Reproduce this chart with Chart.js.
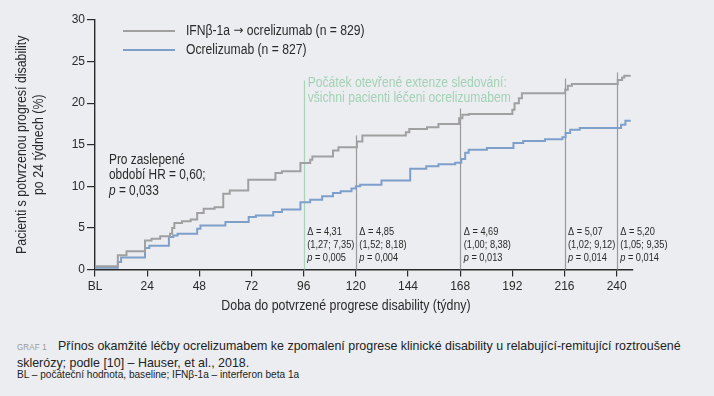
<!DOCTYPE html>
<html>
<head>
<meta charset="utf-8">
<script src="https://cdn.jsdelivr.net/npm/chart.js@4.4.1/dist/chart.umd.min.js"></script>
<style>
  body { margin: 0; background: #ebedf0; width: 714px; height: 396px; overflow: hidden; position: relative;
         font-family: 'Liberation Sans', sans-serif; }
  #wrap { position: absolute; left: 0; top: 0; width: 714px; height: 320px; }
  .cap { position: absolute; left: 17px; color: #222; white-space: nowrap; transform: scaleX(0.935); transform-origin: 0 0; }
  .graf { color: #9a9a9a; font-size: 8.5px; letter-spacing: 0.2px; margin-right: 12px; }
</style>
</head>
<body>
<div id="wrap"><canvas id="chart" width="714" height="320"></canvas></div>
<div class="cap" style="top:338px;font-size:13.3px"><span class="graf">GRAF 1</span>Přínos okamžité léčby ocrelizumabem ke zpomalení progrese klinické disability u relabující-remitující roztroušené</div>
<div class="cap" style="top:354.5px;font-size:13.3px">sklerózy; podle [10] – Hauser, et al., 2018.</div>
<div class="cap" style="top:367.5px;font-size:10.8px">BL – počáteční hodnota, baseline; IFNβ-1a – interferon beta 1a</div>
<script>
// Kaplan-Meier steps (week, % with confirmed progression)
const weeksIFN = [0, 10.5, 14.5, 23, 26, 30, 34.5, 35.5, 36.5, 40, 44, 47, 50, 55, 59, 62, 70.5, 83, 86,
  94.5, 99, 100, 109.5, 112, 120.5, 123, 143, 144.6, 152.7, 158, 167.5, 169, 172, 192, 193, 195, 196.4,
  216.3, 217.5, 219.4, 240.5, 242.5, 243.5, 246];
const valuesIFN = [0.4, 1.7, 2.2, 3.5, 3.7, 4.0, 4.3, 5.0, 5.6, 5.8, 6.0, 6.8, 7.3, 7.5, 9.1, 9.5, 10.8, 11.6, 11.8,
  12.8, 13.2, 13.6, 14.3, 14.7, 15.4, 16.1, 16.5, 16.9, 17.1, 17.5, 18.2, 18.6, 18.7, 19.2, 20.0, 20.6, 21.2,
  21.6, 22.1, 22.3, 22.8, 23.1, 23.3, 23.4];

const weeksOcr = [0, 10.5, 12, 23, 25, 34, 36, 38, 47, 48.5, 60, 70.7, 74, 82, 86, 94.5, 99, 104.5, 109.5,
  113, 118, 120, 122, 131.8, 145, 152.4, 158, 165.7, 168.5, 170.3, 171.9, 180.3, 192.5, 197, 207, 215, 216.5,
  218.6, 223, 242, 244, 246];
const valuesOcr = [0.2, 0.9, 1.45, 2.6, 2.85, 3.9, 4.1, 4.3, 4.9, 5.3, 5.7, 6.3, 6.5, 6.9, 7.2, 8.1, 8.4, 8.8, 9.2,
  9.4, 9.75, 10.0, 10.2, 10.7, 12.1, 12.4, 12.65, 12.85, 13.3, 14.05, 14.4, 14.6, 15.2, 15.45, 15.65, 15.9, 16.4,
  16.8, 17.0, 17.4, 17.9, 18.0];

const seriesLabels = ['IFNβ-1a → ocrelizumab (n = 829)', 'Ocrelizumab (n = 827)'];
const xTicks = [0, 24, 48, 72, 96, 120, 144, 168, 192, 216, 240];
const yTicks = [0, 5, 10, 15, 20, 25, 30];

const markWeeks = [96, 120, 168, 216, 240];
const deltas = ['4,31', '4,85', '4,69', '5,07', '5,20'];
const ciLow = ['1,27', '1,52', '1,00', '1,02', '1,05'];
const ciHigh = ['7,35', '8,18', '8,38', '9,12', '9,35'];
const pValues = ['0,005', '0,004', '0,013', '0,014', '0,014'];

const FONT = "'Liberation Sans', sans-serif";
const grayLine = '#a0a0a0';
const blueLine = '#7f9fcb';
const greenText = '#a3d2b6';
const ink = '#2a2a2a';
// top of each marker line, in px above the x axis
const markTop = [189, 134, 161, 191, 197];

function toPts(ws, vs) { return ws.map((w, i) => ({ x: w, y: vs[i] })); }

// condensed-looking text: squeeze horizontally, returns drawn width
function txt(ctx, s, x, y, size, sx, italic, fam) {
  ctx.save();
  ctx.font = (italic ? 'italic ' : '') + size + 'px ' + (fam || FONT);
  const w = ctx.measureText(s).width * sx;
  ctx.translate(x, y);
  ctx.scale(sx, 1);
  ctx.fillText(s, 0, 0);
  ctx.restore();
  return w;
}

// legend label, with the arrow taken from DejaVu so it is full size
function legendText(ctx, s, x, y) {
  const parts = s.split('→');
  let cx = x;
  parts.forEach((p, i) => {
    if (i > 0) cx += txt(ctx, '→', cx, y, 12.5, 0.95, false, "'DejaVu Sans'");
    cx += txt(ctx, p, cx, y, 13.8, 0.88);
  });
}

const overlay = {
  id: 'overlay',
  beforeDatasetsDraw(chart) {
    const ctx = chart.ctx, xs = chart.scales.x, ys = chart.scales.y;
    const y0 = ys.getPixelForValue(0);
    ctx.save();
    ctx.lineWidth = 1.2;
    markWeeks.forEach((w, i) => {
      const x = Math.round(xs.getPixelForValue(w)) + 0.5;
      ctx.strokeStyle = i === 0 ? '#a9d4ba' : '#9a9a9a';
      ctx.beginPath();
      ctx.moveTo(x, y0 - markTop[i]);
      ctx.lineTo(x, y0);
      ctx.stroke();
    });
    ctx.restore();
  },
  afterDraw(chart) {
    const ctx = chart.ctx, xs = chart.scales.x, ys = chart.scales.y;
    const y0 = ys.getPixelForValue(0);
    ctx.save();
    ctx.textBaseline = 'middle';
    ctx.fillStyle = ink;

    // axis titles
    ctx.textAlign = 'center';
    txt(ctx, 'Doba do potvrzené progrese disability (týdny)', 346, 306, 14, 0.885);
    ctx.save();
    ctx.translate(22, (ys.top + ys.bottom) / 2);
    ctx.rotate(-Math.PI / 2);
    txt(ctx, 'Pacienti s potvrzenou progresí disability', 0, 0, 14, 0.885);
    txt(ctx, 'po 24 týdnech (%)', 0, 17.5, 14, 0.885);
    ctx.restore();
    ctx.textAlign = 'left';

    // legend
    const legY = [31, 50];
    [grayLine, blueLine].forEach((c, i) => {
      ctx.strokeStyle = c;
      ctx.lineWidth = 2;
      ctx.beginPath();
      ctx.moveTo(123, legY[i]);
      ctx.lineTo(175, legY[i]);
      ctx.stroke();
      legendText(ctx, seriesLabels[i], 186, legY[i]);
    });

    // blinded period
    txt(ctx, 'Pro zaslepené', 109, 160, 13.8, 0.86);
    txt(ctx, 'období HR = 0,60;', 109, 175.5, 13.8, 0.86);
    const pw = txt(ctx, 'p', 109, 191, 13.8, 0.86, true);
    txt(ctx, ' = 0,033', 109 + pw, 191, 13.8, 0.86);

    // open-label extension note
    ctx.fillStyle = greenText;
    const gx = xs.getPixelForValue(markWeeks[0]) + 4;
    txt(ctx, 'Počátek otevřené extenze sledování:', gx, 83.5, 13.8, 0.88);
    txt(ctx, 'všichni pacienti léčeni ocrelizumabem', gx, 98.5, 13.8, 0.88);

    // delta annotations
    ctx.fillStyle = ink;
    markWeeks.forEach((w, i) => {
      const x = xs.getPixelForValue(w) + 3.5;
      txt(ctx, 'Δ = ' + deltas[i], x, y0 - 37.5, 11, 0.84);
      txt(ctx, '(' + ciLow[i] + '; ' + ciHigh[i] + ')', x, y0 - 24.5, 11, 0.84);
      const w2 = txt(ctx, 'p', x, y0 - 11.5, 11, 0.84, true);
      txt(ctx, ' = ' + pValues[i], x + w2, y0 - 11.5, 11, 0.84);
    });
    ctx.restore();
  }
};

new Chart(document.getElementById('chart'), {
  type: 'line',
  data: {
    datasets: [
      { label: seriesLabels[0], data: toPts(weeksIFN, valuesIFN), borderColor: grayLine, borderWidth: 2,
        stepped: true, pointRadius: 0, fill: false },
      { label: seriesLabels[1], data: toPts(weeksOcr, valuesOcr), borderColor: blueLine, borderWidth: 2,
        stepped: true, pointRadius: 0, fill: false }
    ]
  },
  options: {
    responsive: false,
    animation: false,
    devicePixelRatio: 1,
    layout: { padding: { top: 20, right: 81, left: 0, bottom: 0 } },
    plugins: { legend: { display: false }, tooltip: { enabled: false } },
    scales: {
      x: {
        type: 'linear', min: 0, max: 247.5,
        afterBuildTicks: axis => { axis.ticks = xTicks.map(v => ({ value: v })); },
        afterFit: s => { s.height = 320 - 269.5; },
        grid: { drawOnChartArea: false, tickLength: 7, color: ink, lineWidth: 1.2 },
        border: { color: ink, width: 1.4 },
        ticks: { color: ink, font: { family: FONT, size: 12 }, padding: 3, maxRotation: 0,
          callback: v => v === 0 ? 'BL' : v }
      },
      y: {
        min: 0, max: 30,
        afterBuildTicks: axis => { axis.ticks = yTicks.map(v => ({ value: v })); },
        afterFit: s => { s.width = 95; },
        grid: { drawOnChartArea: false, tickLength: 8, color: ink, lineWidth: 1.2 },
        border: { color: ink, width: 1.4 },
        ticks: { color: ink, font: { family: FONT, size: 12 }, padding: 2 }
      }
    }
  },
  plugins: [overlay]
});
</script>
</body>
</html>
